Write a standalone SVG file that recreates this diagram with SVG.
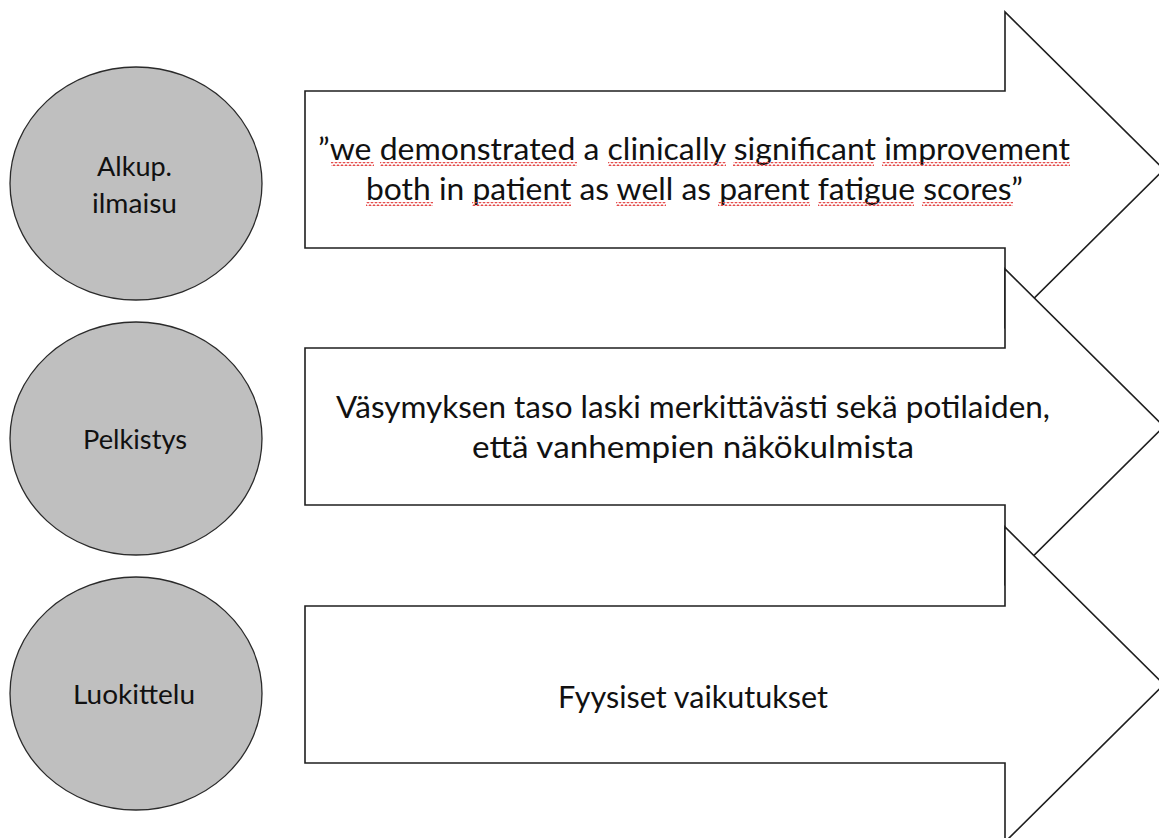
<svg xmlns="http://www.w3.org/2000/svg" width="1159" height="838" viewBox="0 0 1159 838">
  <defs>
    <pattern id="squiggle" patternUnits="userSpaceOnUse" x="0" y="0" width="4" height="4">
      <path d="M0,3.2 L2,0.8 L4,3.2" fill="none" stroke="#e54848" stroke-width="1.1"/>
    </pattern>
  </defs>
  <style>
    .circle { fill: #bfbfbf; stroke: #2a2a2a; stroke-width: 1.3; }
    .arrow { fill: #ffffff; stroke: #1f1f1f; stroke-width: 1.6; stroke-linejoin: miter; }
    .ctext { font-family: Lato, "Liberation Sans", sans-serif; font-size: 27.5px; fill: #111; }
    .atext { font-family: Lato, "Liberation Sans", sans-serif; font-size: 30.7px; fill: #111; }
    .sq { fill: url(#squiggle); }
  </style>
  <rect width="1159" height="838" fill="#ffffff"/>

  <g id="circle-alkup">
    <ellipse class="circle" cx="136" cy="183.5" rx="126" ry="116.5"/>
    <text class="ctext" x="97" y="176" textLength="75" lengthAdjust="spacingAndGlyphs">Alkup.</text>
    <text class="ctext" x="92" y="213" textLength="85" lengthAdjust="spacingAndGlyphs">ilmaisu</text>
  </g>
  <g id="circle-pelkistys">
    <ellipse class="circle" cx="136" cy="438.5" rx="126" ry="116.5"/>
    <text class="ctext" x="83" y="449" textLength="104" lengthAdjust="spacingAndGlyphs">Pelkistys</text>
  </g>
  <g id="circle-luokittelu">
    <ellipse class="circle" cx="136" cy="693.5" rx="126" ry="116.5"/>
    <text class="ctext" x="73" y="704" textLength="122" lengthAdjust="spacingAndGlyphs">Luokittelu</text>
  </g>

  <g id="arrow-1">
    <path class="arrow" d="M305,91 L1005,91 L1005,12 L1164,169.5 L1005,327 L1005,248 L305,248 Z"/>
    <text class="atext" x="318" y="160" textLength="752" lengthAdjust="spacingAndGlyphs">”we demonstrated a clinically significant improvement</text>
    <text class="atext" x="366" y="200" textLength="657" lengthAdjust="spacingAndGlyphs">both in patient as well as parent fatigue scores”</text>
    <g id="spellcheck-marks">
      <rect class="sq" x="331" y="162" width="43" height="4"/>
      <rect class="sq" x="380" y="162" width="197" height="4"/>
      <rect class="sq" x="608" y="162" width="118" height="4"/>
      <rect class="sq" x="733" y="162" width="141" height="4"/>
      <rect class="sq" x="882" y="162" width="188" height="4"/>
      <rect class="sq" x="366" y="202" width="67" height="4"/>
      <rect class="sq" x="472" y="202" width="99" height="4"/>
      <rect class="sq" x="616" y="202" width="50" height="4"/>
      <rect class="sq" x="718" y="202" width="92" height="4"/>
      <rect class="sq" x="818" y="202" width="96" height="4"/>
      <rect class="sq" x="922" y="202" width="91" height="4"/>
    </g>
  </g>
  <g id="arrow-2">
    <path class="arrow" d="M305,348 L1005,348 L1005,269 L1164,426.5 L1005,584 L1005,505 L305,505 Z"/>
    <text class="atext" x="336" y="418" textLength="714" lengthAdjust="spacingAndGlyphs">Väsymyksen taso laski merkittävästi sekä potilaiden,</text>
    <text class="atext" x="472" y="458" textLength="442" lengthAdjust="spacingAndGlyphs">että vanhempien näkökulmista</text>
  </g>
  <g id="arrow-3">
    <path class="arrow" d="M305,606 L1005,606 L1005,527 L1164,684.5 L1005,842 L1005,763 L305,763 Z"/>
    <text class="atext" x="558" y="708" textLength="270" lengthAdjust="spacingAndGlyphs">Fyysiset vaikutukset</text>
  </g>

  <g id="connectors"/>
</svg>
